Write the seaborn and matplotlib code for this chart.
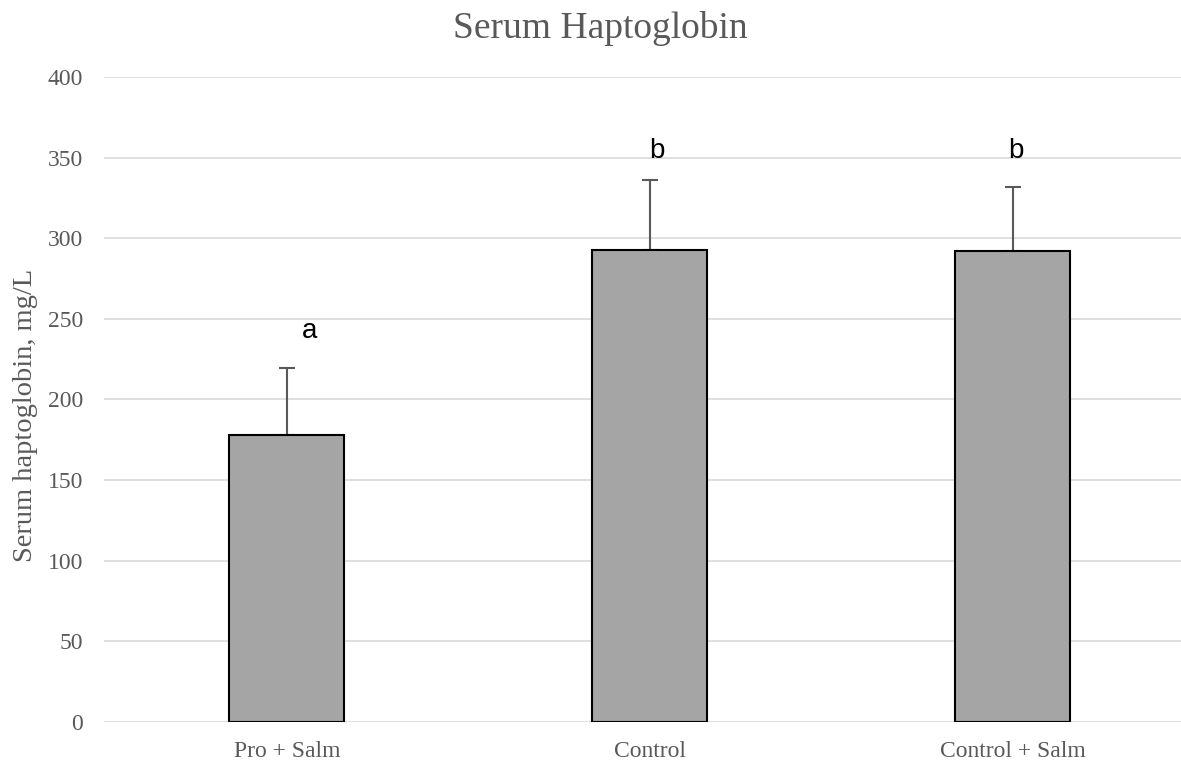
import matplotlib
matplotlib.use("Agg")
import matplotlib.pyplot as plt
import seaborn as sns
import pandas as pd

groups = ["Pro + Salm", "Control", "Control + Salm"]
means = [178, 293, 292]
sem = [41.5, 43, 39.5]
letters = ["a", "b", "b"]
yticks = [0, 50, 100, 150, 200, 250, 300, 350, 400]

df = pd.DataFrame({"group": groups, "value": means})

sns.set_style("white")
plt.rcParams["font.family"] = ["Liberation Serif", "DejaVu Serif"]

W, H = 1181, 762
fig = plt.figure(figsize=(W / 100, H / 100), dpi=100)
ax = fig.add_axes([104 / W, 40 / H, (W - 104) / W, (722 - 77) / H])

sns.barplot(data=df, x="group", y="value", color="#a5a5a5", width=0.317,
            edgecolor="black", linewidth=1.5, saturation=1, ax=ax, zorder=3)
for bar in ax.patches:
    bar.set_zorder(3)

ax.errorbar(range(len(groups)), means, yerr=[[0] * len(sem), sem], fmt="none",
            ecolor="#595959", elinewidth=1.5, capsize=6, capthick=1.5, zorder=2)

# significance letters, set just above each whisker
letter_pos = [(0.063, 238), (1.019, 350), (2.008, 350)]
for (lx, ly), t in zip(letter_pos, letters):
    ax.text(lx, ly, t, ha="center", va="baseline", fontsize=20,
            family="Liberation Sans", color="black")

ax.set_ylim(0, 400)
ax.set_xlim(-0.504, 2.463)
ax.set_yticks(yticks)
ax.yaxis.grid(True, color="#d9d9d9", linewidth=1.2, zorder=0)
ax.set_axisbelow(True)
for sp in ax.spines.values():
    sp.set_visible(False)
ax.tick_params(axis="both", length=0, labelsize=17, colors="#595959")
ax.tick_params(axis="x", pad=14)
ax.tick_params(axis="y", pad=15)
ax.set_xlabel("")
ax.set_ylabel("")

fig.text(26 / W, 1 - 415 / H, "Serum haptoglobin, mg/L", rotation=90,
         ha="center", va="center", fontsize=20.5, color="#595959")
fig.text(600 / W, 1 - 28 / H, "Serum Haptoglobin", ha="center", va="center",
         fontsize=27, color="#595959")

fig.savefig("out.png", dpi=100)
